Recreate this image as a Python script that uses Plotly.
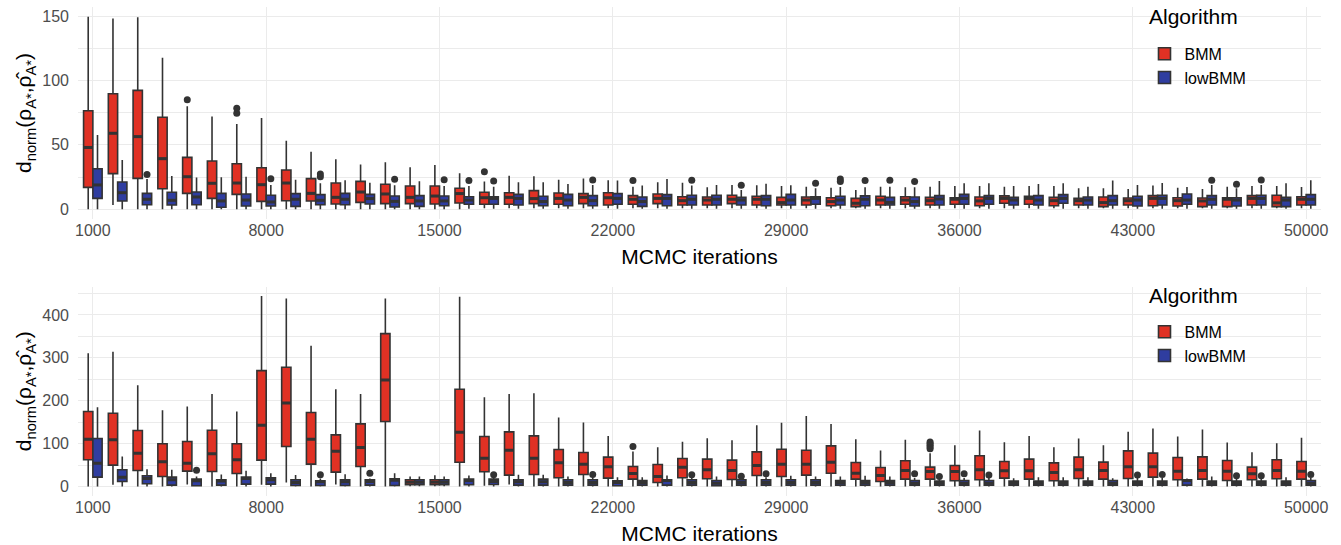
import plotly.graph_objects as go

# MCMC iteration counts (x categories) and the labelled subset
iterations = list(range(1000, 50001, 1000))
tick_iterations = [1000, 8000, 15000, 22000, 29000, 36000, 43000, 50000]
algorithms = ["BMM", "lowBMM"]

# ---------------- Upper panel: box statistics per iteration ----------------
top_bmm_lower = [0, 3.4, 0, 0, 0, 0, 0, 0, 0, 0, 0, 0, 0, 0, 0, 0, 0.8, 0.8, 0.8, 0.8,
                 0.8, 0.8, 0.8, 0.8, 0.8, 0.8, 0.8, 0.8, 0.8, 0.8, 0.8, 0.8, 0.8, 0.8, 0.8,
                 0.8, 0.8, 0.8, 0.8, 0.8, 0.8, 0.8, 0.8, 0.8, 0.8, 0.8, 0.8, 0.8, 0.8, 0.8]
top_bmm_q1 = [17, 27.7, 24, 16, 12.4, 8.5, 11.6, 6.2, 6.7, 6.5, 4.1, 5.4, 4.4, 4.4, 4.1,
              4.9, 3.9, 3.9, 4.4, 3.9, 4.4, 3.4, 3.9, 4.4, 3.4, 3.4, 4.4, 3.4, 3.4, 3.4,
              2.8, 2.1, 3.4, 3.9, 3.4, 3.9, 2.8, 4.7, 3.9, 2.8, 3.4, 2.1, 3.4, 2.8, 2.6,
              2.1, 2.1, 3.4, 2.1, 3.4]
top_bmm_median = [48, 59, 56.4, 39.3, 25.3, 20.2, 20.4, 19.1, 20.4, 12.4, 9.3, 13.4, 11.9,
                  9.3, 10.3, 12.2, 9, 9.3, 8.3, 8.5, 9.3, 9, 7.8, 8.5, 6.7, 7.2, 7.8, 7.8,
                  5.2, 7.2, 6, 4.7, 7.2, 7.2, 6.7, 7.8, 6.5, 8.5, 8.5, 6.7, 6.7, 5.2, 6.7,
                  8.5, 6.7, 6.5, 7.8, 8.5, 5, 7.8]
top_bmm_q3 = [76.5, 89.7, 92.3, 71.4, 40.3, 37.5, 35.4, 32.3, 30.5, 23.8, 20.4, 21.7, 19.4,
              18.1, 18.1, 16.3, 13.2, 12.9, 14.5, 12.7, 12.2, 12.9, 10.6, 11.9, 9.8, 9.6,
              10.9, 10.1, 9.3, 9.6, 9, 8.5, 10.1, 9.8, 9.3, 9, 9.6, 10.4, 10.1, 9.3, 8.5,
              9.6, 8.8, 10.6, 9, 8.8, 9, 10.6, 10.9, 9.8]
top_bmm_upper = [149.5, 148, 149, 117.7, 80, 72, 66.2, 70.9, 53.3, 44.7, 38.8, 34.7, 36.5,
                 32.6, 34.4, 27.9, 21.5, 26.1, 25.6, 23, 24, 22.5, 17.6, 21, 20.7, 17.1,
                 18.9, 18.6, 18.1, 17.6, 16.8, 15, 17.6, 17.1, 17.6, 18.1, 18.1, 17.6,
                 18.1, 18.1, 16.3, 16.3, 15.8, 18.4, 16.8, 15.8, 17.6, 18.1, 18.1, 17.3]
top_bmm_outliers = {5000: [85], 7000: [74.5, 78.4], 17000: [29.2], 23000: [22.3]}

top_low_lower = [0] * 15 + [0.5] * 35
top_low_q1 = [8.5, 6.5, 3.6, 3.4, 3.6, 1.6, 2.6, 2.6, 2.3, 3.6, 3.6, 4.1, 1.8, 2.3, 2.8,
              3.9, 3.9, 3.4, 2.8, 2.8, 2.8, 3.9, 2.3, 2.8, 3.4, 3.4, 3.4, 2.8, 3.4, 3.9,
              3.4, 2.8, 3.4, 2.6, 3.4, 3.9, 3.9, 3.4, 3.4, 4.7, 3.4, 3.4, 2.6, 3.4, 3.9,
              3.4, 2.6, 3.4, 2.1, 3.4]
top_low_median = [18.9, 12.9, 7.8, 7, 9.6, 6.5, 7.2, 5.7, 7.8, 7, 7.8, 8.3, 6.2, 6.5, 6.5,
                  7.2, 8.5, 8.5, 6, 7.2, 6.7, 8.5, 6, 8.5, 7.8, 7.8, 7.2, 7.8, 7.2, 8.5,
                  7.2, 7.8, 5.4, 6, 8, 8.5, 8.5, 7.2, 7.2, 8.5, 7.2, 6.7, 7.2, 8.5, 7.2,
                  7.8, 7.2, 8.5, 7.2, 7.8]
top_low_q3 = [31.5, 21.2, 12.4, 13.2, 13.4, 12.4, 11.9, 10.9, 12.2, 11.4, 12.4, 11.6, 10.3,
              10.6, 10.3, 9.8, 9.8, 11.6, 10.1, 11.6, 10.6, 12.2, 9.6, 11.4, 10.9, 10.9,
              9.3, 10.6, 11.6, 9.8, 10.1, 10.4, 9.3, 9.6, 10.6, 11.6, 10.6, 9.3, 10.6,
              11.4, 9.6, 10.6, 10.1, 10.9, 11.9, 10.6, 9, 10.9, 9.3, 11.4]
top_low_upper = [57.7, 38.3, 23.5, 25.9, 24.6, 24.8, 25.3, 18.9, 23, 20.2, 22.5, 20.7, 18.6,
                 21.7, 18, 18, 17.6, 21, 21, 19.7, 18.9, 22.3, 18.4, 23.5, 18.4, 18.9, 15,
                 19.9, 18.6, 16.3, 17.3, 17.1, 17.6, 17.1, 22, 20.2, 20.2, 18.1, 19.7,
                 20.2, 17.6, 22.3, 18.9, 20.4, 17.3, 18.9, 16.3, 18.9, 20.2, 22.5]
top_low_outliers = {3000: [27], 8000: [23.8], 10000: [25.3, 27.4], 13000: [23.3],
                    15000: [23], 16000: [22.3], 17000: [22], 21000: [22.8], 25000: [22.5],
                    27000: [18.6], 30000: [20.2], 31000: [21.5, 23.5], 32000: [22.3],
                    33000: [22.5], 34000: [21.5], 46000: [22.5], 47000: [19.4],
                    48000: [22.8]}

# ---------------- Lower panel: box statistics per iteration ----------------
bot_bmm_lower = [0, 4, 0, 0, 4.7, 0, 0, 4, 9.4, 0, 4.7, 0, 0, 0.5, 0.5, 0, 1.6, 4.7, 0, 0,
                 0, 0, 0, 0, 0, 0, 0, 0, 0, 0, 0, 0, 0, 0, 0, 0, 0, 0, 0, 0, 0, 0, 0, 0,
                 0, 0, 0, 0, 0, 0]
bot_bmm_q1 = [62.2, 49.8, 37.3, 23.4, 35.8, 35, 30.3, 61.4, 93.2, 52.1, 33.4, 46.7, 151.5,
              3.9, 3.9, 56.6, 34.2, 26.5, 28, 20.2, 28, 19.4, 17.1, 9.4, 20.2, 17.9, 16.3,
              25.7, 23.4, 26.5, 31, 17.1, 11.7, 17.1, 17.1, 13.3, 15.6, 19.4, 17.1, 13.3,
              18.7, 17.1, 18.7, 21.8, 15.6, 17.1, 14, 15.6, 17.9, 17.1]
bot_bmm_median = [110.3, 108.8, 77.7, 57.5, 54.4, 76.2, 62.2, 143, 194.9, 110.3, 82.3, 90.9,
                  248.5, 10.1, 10.1, 126.6, 66, 84.6, 66, 55.1, 52, 45.8, 30.3, 23.4, 45,
                  38.9, 37.3, 49, 52, 52, 56.7, 31, 25.6, 37.3, 35, 35, 38.9, 36.5, 36.5,
                  32.6, 38.9, 37.3, 45.8, 45.8, 35.8, 37.3, 35.8, 29.5, 37.3, 35.8]
bot_bmm_q3 = [174.8, 170.9, 130.5, 99.5, 104.9, 131.2, 99.5, 270.3, 278.1, 172.4, 120.3,
              145.9, 356.4, 15.6, 15.6, 226.7, 116.5, 127.4, 118.1, 86.2, 79.2, 68.4, 46.7,
              51.3, 65.3, 63.7, 61.4, 80.8, 86.9, 84.6, 94.8, 55.9, 44.3, 59.9, 45.1, 49,
              71.5, 58.3, 63.7, 55.1, 68.4, 56.7, 83.1, 77.7, 67.6, 69.1, 60.6, 45.1, 62.2,
              58.3]
bot_bmm_upper = [310.6, 314.5, 235.9, 177.9, 186.4, 215.9, 174.8, 444.2, 438.7, 328.4,
                 226.7, 215.9, 438.7, 23.4, 26, 442.6, 208, 215.9, 217.5, 160.7, 149, 118,
                 81.5, 91.7, 104.1, 112.6, 108, 142.9, 148.4, 164.6, 146, 110.2, 83.9,
                 108.7, 77.7, 96.2, 130.5, 103.3, 118, 91.7, 111.8, 96.3, 127.4, 135.2,
                 116.5, 132.8, 102.6, 80, 101, 113.4]
bot_bmm_outliers = {23000: [93.2], 35000: [88, 92, 96, 100, 104]}

bot_low_lower = [0] * 13 + [0.5, 0.5] + [0] * 35
bot_low_q1 = [21.8, 11.7, 6.3, 3.2, 1.6, 3.2, 5.5, 5.5, 2.4, 2.4, 2.4, 3.2, 2.4, 3.9, 3.9,
              3.9, 4.7, 3.2, 3.2, 3.2, 3.2, 1.6, 3.2, 3.2, 3.2, 1.6, 3.2, 3.2, 3.2, 3.2,
              3.2, 3.2, 3.2, 3.1, 3.1, 3.1, 3.1, 3.1, 3.1, 3.1, 3.1, 3.1, 3.1, 3.1, 3.2,
              3.1, 3.1, 3.1, 3.1, 3.1]
bot_low_median = [54.4, 21.8, 18.7, 15.6, 13.3, 12.5, 18.7, 15.6, 9.4, 10.9, 10.9, 11.7,
                  14.8, 10.1, 10.1, 14, 11.7, 10.9, 10.9, 9.4, 9.4, 9.4, 9.4, 14, 9.4, 7.8,
                  9.4, 9.4, 9.4, 9.4, 9.4, 9.4, 9.4, 7.8, 7.8, 7.8, 7.8, 7.8, 7.8, 7.8,
                  7.8, 7.8, 7.8, 7.8, 14, 7.8, 7.8, 7.8, 7.8, 7.8]
bot_low_q3 = [111.9, 38.9, 24.9, 21.8, 17.1, 15.6, 21.8, 20.2, 15.6, 13.3, 15.6, 15.6, 17.9,
              15.6, 15.6, 17.1, 17.1, 15.6, 17.1, 15.6, 15.6, 13.2, 14, 15.6, 15.6, 14,
              15.6, 15.6, 15.6, 15.6, 14, 14, 14, 14, 12.5, 14, 14, 12.5, 12.5, 12.5,
              12.5, 14, 12.5, 12.5, 15.6, 12.5, 12.5, 12.5, 12.5, 14]
bot_low_upper = [184.9, 70, 40.4, 38.9, 23, 28, 36.5, 31.1, 26.5, 18.7, 28.7, 18.7, 31.1,
                 23.4, 23.4, 25.7, 21.8, 27.3, 27.3, 23.4, 21.8, 21.8, 21.8, 25.7, 21.8,
                 23.4, 19.4, 21.8, 24.8, 23.4, 23.4, 24.8, 23.4, 20, 18, 20, 20, 19.4,
                 21.8, 21.8, 21.8, 19.4, 20, 20, 18.7, 23.4, 19, 19, 21.8, 20]
bot_low_outliers = {5000: [38.1], 10000: [27.3], 12000: [31.1], 17000: [27.3],
                    21000: [28], 25000: [27.3], 27000: [24.1], 28000: [29.6],
                    34000: [29.6], 35000: [23.4], 36000: [29.6], 37000: [26.5],
                    43000: [26.5], 44000: [28], 47000: [24.8], 48000: [24.8],
                    50000: [28]}

# ---------------- Styling ----------------
FILL = {"BMM": "#E03124", "lowBMM": "#2F3DA0"}
EDGE = "#333333"
GRID = "#EBEBEB"
DODGE = 0.1875       # half of the 0.75 dodge width
BOX_W = 0.375

panels = [
    {"axes": ("x", "y"), "legend": "legend",
     "stats": {"BMM": (top_bmm_lower, top_bmm_q1, top_bmm_median, top_bmm_q3, top_bmm_upper, top_bmm_outliers),
               "lowBMM": (top_low_lower, top_low_q1, top_low_median, top_low_q3, top_low_upper, top_low_outliers)}},
    {"axes": ("x2", "y2"), "legend": "legend2",
     "stats": {"BMM": (bot_bmm_lower, bot_bmm_q1, bot_bmm_median, bot_bmm_q3, bot_bmm_upper, bot_bmm_outliers),
               "lowBMM": (bot_low_lower, bot_low_q1, bot_low_median, bot_low_q3, bot_low_upper, bot_low_outliers)}},
]

fig = go.Figure()
for panel in panels:
    xa, ya = panel["axes"]
    for k, alg in enumerate(algorithms):
        lower, q1, med, q3, upper, outl = panel["stats"][alg]
        shift = -DODGE if k == 0 else DODGE
        pos = [i + shift for i in range(len(iterations))]
        fig.add_trace(go.Box(
            x=pos, q1=q1, median=med, q3=q3, lowerfence=lower, upperfence=upper,
            width=BOX_W, name=alg, fillcolor=FILL[alg],
            line=dict(color=EDGE, width=1.6), whiskerwidth=0,
            boxpoints=False, hoverinfo="skip",
            xaxis=xa, yaxis=ya, legend=panel["legend"],
        ))
        # thicker median bars
        mx, my = [], []
        for p, m in zip(pos, med):
            mx += [p - BOX_W / 2, p + BOX_W / 2, None]
            my += [m, m, None]
        fig.add_trace(go.Scatter(x=mx, y=my, mode="lines",
                                 line=dict(color=EDGE, width=3),
                                 showlegend=False, hoverinfo="skip",
                                 xaxis=xa, yaxis=ya))
        # outlying observations
        ox, oy = [], []
        for it, vals in outl.items():
            for v in vals:
                ox.append(iterations.index(it) + shift)
                oy.append(v)
        fig.add_trace(go.Scatter(x=ox, y=oy, mode="markers",
                                 marker=dict(color=EDGE, size=7),
                                 showlegend=False, hoverinfo="skip",
                                 xaxis=xa, yaxis=ya))

tickvals = [iterations.index(t) for t in tick_iterations]
ticktext = [str(t) for t in tick_iterations]
ytitle = "d<sub>norm</sub>(ρ<sub>A*</sub>,ρ\u0302<sub>A*</sub>)"

common_x = dict(range=[-0.6, len(iterations) - 0.4], tickvals=tickvals, ticktext=ticktext,
                showgrid=True, gridcolor=GRID, gridwidth=1.2, zeroline=False,
                showline=False, ticks="", tickfont=dict(size=16, color="#4D4D4D"),
                automargin=False,
                title=dict(text="MCMC iterations", font=dict(size=21, color="black"),
                           standoff=11))
common_y = dict(showgrid=True, gridcolor=GRID, gridwidth=1.2, zeroline=False,
                showline=False, ticks="", tickfont=dict(size=16, color="#4D4D4D"),
                ticklabelstandoff=8, automargin=False,
                title=dict(text=ytitle, font=dict(size=21, color="black"), standoff=4))

legend_common = dict(font=dict(size=16, color="black"), bgcolor="rgba(0,0,0,0)",
                     xanchor="left", yanchor="top", x=0.858, tracegroupgap=0)

TOP_LEG_Y = 0.939
BOT_LEG_Y = TOP_LEG_Y - 278 / 489

fig.update_layout(
    width=1341, height=545,
    margin=dict(l=78, r=20, t=7, b=49),
    plot_bgcolor="white", paper_bgcolor="white",
    font=dict(family="Liberation Sans, Arial, sans-serif"),
    boxmode="overlay",
    xaxis=dict(common_x, domain=[0, 1], anchor="y"),
    yaxis=dict(common_y, domain=[0.5665, 1], anchor="x", range=[-7.5, 157],
               tickvals=[0, 50, 100, 150],
               minor=dict(dtick=25, showgrid=True, gridcolor=GRID, gridwidth=0.8)),
    xaxis2=dict(common_x, domain=[0, 1], anchor="y2"),
    yaxis2=dict(common_y, domain=[0, 0.4284], anchor="x2", range=[-22.2, 466.4],
                tickvals=[0, 100, 200, 300, 400],
                minor=dict(dtick=50, showgrid=True, gridcolor=GRID, gridwidth=0.8)),
    legend=dict(legend_common, y=TOP_LEG_Y),
    legend2=dict(legend_common, y=BOT_LEG_Y),
)

# legend headings
for ty in (0.9796, 0.411):
    fig.add_annotation(text="Algorithm", xref="paper", yref="paper", x=0.86, y=ty,
                       xanchor="left", yanchor="middle", showarrow=False,
                       font=dict(size=21, color="black"))

fig.write_html("out.html")
